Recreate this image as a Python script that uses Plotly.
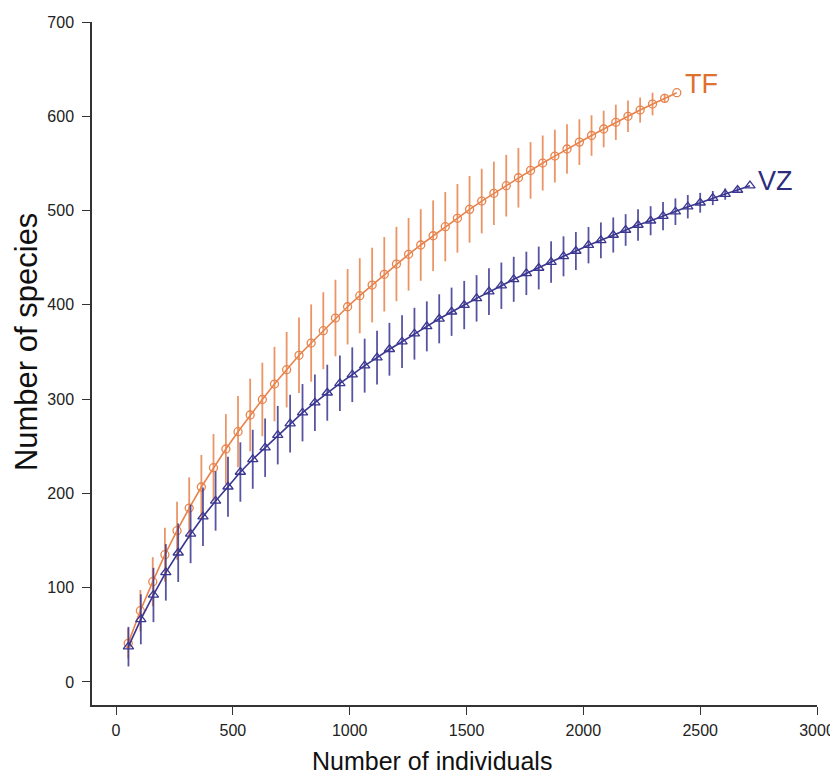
import plotly.graph_objects as go

# ---------------- data ----------------
tf_x = [52, 104, 157, 209, 261, 313, 365, 417, 470, 522, 574, 626, 678, 730, 783,
        835, 887, 939, 991, 1043, 1096, 1148, 1200, 1252, 1304, 1357, 1409, 1461,
        1513, 1565, 1617, 1670, 1722, 1774, 1826, 1878, 1930, 1983, 2035, 2087,
        2139, 2191, 2243, 2296, 2348, 2400]
tf_y = [41, 75.6, 106.4, 135, 160.5, 184.5, 206.8, 227.3, 247.1, 265.5, 283.2,
        299.6, 316, 331.2, 346.5, 359.5, 372.6, 386, 398, 409.7, 421, 432.4, 443.3,
        453.6, 463.5, 473.3, 482.9, 491.8, 501.3, 510.1, 518.3, 526.4, 534.8, 542.6,
        550.4, 557.8, 565.3, 572.6, 579.6, 586.5, 593.6, 600, 606.6, 613, 619, 625]
tf_err = [16, 22, 26, 28.6, 30.8, 32.5, 34, 35.7, 37, 37.8, 38.5, 39, 39.5, 40, 40,
          41, 40.8, 40.6, 40, 39.8, 39.6, 39.5, 39.4, 38.5, 38, 37.5, 36.8, 36.4,
          35.4, 34.3, 33.6, 32.7, 31.6, 30, 29.2, 28, 26.2, 24.2, 21.5, 19.4, 18.7,
          16.8, 13.3, 12, 4.8, 0]

vz_x = [53, 106, 160, 213, 266, 319, 372, 426, 479, 532, 585, 638, 692, 745, 798,
        851, 904, 958, 1011, 1064, 1117, 1170, 1224, 1277, 1330, 1383, 1436, 1490,
        1543, 1596, 1649, 1702, 1756, 1809, 1862, 1915, 1968, 2022, 2075, 2128,
        2181, 2234, 2288, 2341, 2394, 2447, 2500, 2554, 2607, 2660, 2713]
vz_y = [37.5, 66.5, 92.3, 116.3, 137.1, 157, 175.3, 192, 207.1, 222.7, 236.2,
        248.5, 261.8, 274, 285.6, 296.2, 306.8, 316.8, 325.9, 335.5, 344, 352.9,
        360.9, 369.4, 377.2, 385.2, 392.7, 399.8, 406.9, 414, 420.3, 427.1, 433.4,
        439.1, 445.4, 451.5, 457.1, 463.3, 468.4, 474.1, 479.4, 484.7, 489.2, 494.2,
        498.8, 504.1, 508.3, 513.3, 517.5, 521.8, 526.4]
vz_err = [21, 26.5, 28.8, 30, 31, 31, 31, 31.5, 31.8, 31.5, 31.3, 31, 31, 30.6,
          30.4, 30, 29.7, 29.5, 29, 28.6, 28.5, 28, 28, 27.5, 26.5, 26, 25.6, 25.6,
          24.6, 24.7, 24.6, 23.9, 23, 22.7, 22, 21.2, 20.2, 19.3, 19, 18.6, 16.8,
          16.8, 15.4, 15, 14.1, 12.4, 10.5, 7.5, 6, 3, 0]

x_ticks = [0, 500, 1000, 1500, 2000, 2500, 3000]
y_ticks = [0, 100, 200, 300, 400, 500, 600, 700]

FONT = "Liberation Sans, Arial, Helvetica, sans-serif"
TF_COL = "#E8834C"
TF_BAR = "rgba(232,131,76,0.85)"
VZ_COL = "#3A3690"
VZ_BAR = "rgba(58,54,144,0.85)"

fig = go.Figure()

fig.add_trace(go.Scatter(
    x=tf_x, y=tf_y, mode="lines+markers", name="TF",
    line=dict(color=TF_COL, width=1.6),
    marker=dict(symbol="circle-open", size=8, color=TF_COL, line=dict(width=1.3)),
    error_y=dict(type="data", array=tf_err, symmetric=True, width=0,
                 thickness=1.8, color=TF_BAR),
))
fig.add_trace(go.Scatter(
    x=vz_x, y=vz_y, mode="lines+markers", name="VZ",
    line=dict(color=VZ_COL, width=1.6),
    marker=dict(symbol="triangle-up-open", size=9, color=VZ_COL, line=dict(width=1.3)),
    error_y=dict(type="data", array=vz_err, symmetric=True, width=0,
                 thickness=1.8, color=VZ_BAR),
))

# series end labels
fig.add_annotation(x=tf_x[-1], y=tf_y[-1], text="TF", showarrow=False,
                   xanchor="left", yanchor="middle", xshift=6, yshift=9,
                   font=dict(size=27, color="#E0702E", family=FONT))
fig.add_annotation(x=vz_x[-1], y=vz_y[-1], text="VZ", showarrow=False,
                   xanchor="left", yanchor="middle", xshift=6, yshift=5,
                   font=dict(size=27, color="#2D2B7C", family=FONT))

# axis titles (placed like the reference, slightly off-centre)
fig.add_annotation(xref="paper", yref="paper", x=0.469, y=-0.082,
                   text="Number of individuals", showarrow=False,
                   xanchor="center", yanchor="middle",
                   font=dict(size=25, color="#111111", family=FONT))
fig.add_annotation(xref="paper", yref="paper", x=-0.090, y=0.531,
                   text="Number of species", showarrow=False, textangle=-90,
                   xanchor="center", yanchor="middle",
                   font=dict(size=31, color="#111111", family=FONT))

axis_common = dict(
    showline=True, linecolor="#333333", linewidth=1.5,
    ticks="outside", ticklen=8, tickwidth=1.3, tickcolor="#333333",
    showgrid=False, zeroline=False, automargin=False,
    tickfont=dict(size=16, color="#222222", family=FONT),
)

fig.update_xaxes(range=[-103, 3000], tickvals=x_ticks, ticklabelstandoff=2,
                 **axis_common)
fig.update_yaxes(range=[-24.4, 700], tickvals=y_ticks, ticklabelstandoff=5,
                 **axis_common)

# the page body adds an 8px offset, so the figure is 8px smaller than the window
fig.update_layout(
    width=830, height=768,
    margin=dict(l=84, r=21, t=14, b=71),
    paper_bgcolor="white", plot_bgcolor="white",
    showlegend=False,
)

fig.write_html("out.html")
